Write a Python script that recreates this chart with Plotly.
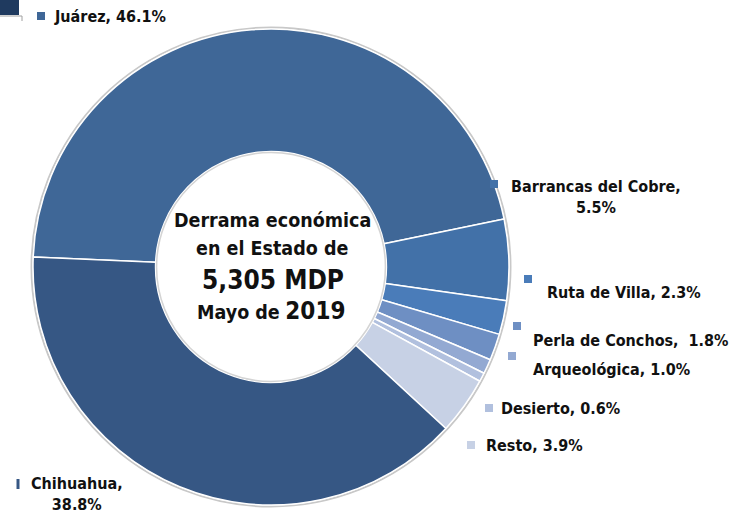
import plotly.graph_objects as go

# ---- data ----
regions = ["Juárez", "Barrancas del Cobre", "Ruta de Villa", "Perla de Conchos",
           "Arqueológica", "Desierto", "Resto", "Chihuahua"]
shares = [46.1, 5.5, 2.3, 1.8, 1.0, 0.6, 3.9, 38.8]
colors = ["#3F6797", "#4271A8", "#4A7CB9", "#6E8FC3", "#93A9D2", "#B1C0DE", "#C7D1E5", "#365784"]
center_lines = ["Derrama económica", "en el Estado de", "5,305 MDP", "Mayo de", "2019"]

W, H = 747, 520
FONT = "DejaVu Sans Condensed, Liberation Sans Narrow, Arial Narrow, sans-serif"

def px(x):
    return x / W

def py(y):
    return 1 - y / H

cx, cy, R = 271, 267, 238
HOLE = 0.485

fig = go.Figure(go.Pie(
    labels=regions,
    values=shares,
    sort=False,
    direction="clockwise",
    rotation=-87.6,
    hole=HOLE,
    marker=dict(colors=colors, line=dict(color="white", width=1.5)),
    textinfo="none",
    hoverinfo="label+percent",
    showlegend=False,
    domain=dict(x=[px(cx - R), px(cx + R)], y=[py(cy + R), py(cy - R)]),
))

# label layout: (marker x, marker y, text x, text y, anchor, two-line)
label_pos = {
    "Juárez": (41, 16, 52, 17, "left", False),
    "Barrancas del Cobre": (494, 184, 596, 197, "center", True),
    "Ruta de Villa": (528, 279, 545, 292, "left", False),
    "Perla de Conchos": (517, 326, 531, 340, "left", False),
    "Arqueológica": (512, 356, 531, 369, "left", False),
    "Desierto": (489, 408, 499, 408, "left", False),
    "Resto": (471, 445, 484, 445, "left", False),
    "Chihuahua": (18, 484, 77, 494, "center", True),
}

annotations = []
shapes = []
for name, val, col in zip(regions, shares, colors):
    mx, my, tx, ty, anc, two = label_pos[name]
    if two:
        txt = f"<b>{name},<br>{val:.1f}%</b>"
    else:
        sep = ",  " if name == "Perla de Conchos" else ", "
        txt = f"<b>{name}{sep}{val:.1f}%</b>"
    annotations.append(dict(
        x=px(tx), y=py(ty), xref="paper", yref="paper",
        text=txt, showarrow=False, xanchor=anc, yanchor="middle", align="center",
        font=dict(family=FONT, size=16, color="#111111"),
    ))
    hw = 1.5 if name == "Chihuahua" else 4
    hh = 5 if name == "Chihuahua" else 4
    shapes.append(dict(
        type="rect", xref="paper", yref="paper",
        x0=px(mx - hw), x1=px(mx + hw), y0=py(my + hh), y1=py(my - hh),
        fillcolor=col, line=dict(width=0),
    ))

# center text
annotations += [
    dict(x=px(272), y=py(220), xref="paper", yref="paper", showarrow=False,
         text=f"<b>{center_lines[0]}</b>", font=dict(family=FONT, size=19.5, color="#111111")),
    dict(x=px(272), y=py(248), xref="paper", yref="paper", showarrow=False,
         text=f"<b>{center_lines[1]}</b>", font=dict(family=FONT, size=19.5, color="#111111")),
    dict(x=px(273), y=py(280), xref="paper", yref="paper", showarrow=False,
         text=f"<b>{center_lines[2]}</b>", font=dict(family=FONT, size=26, color="#111111")),
    dict(x=px(271), y=py(311), xref="paper", yref="paper", showarrow=False,
         text=f"<b>{center_lines[3]}</b> <span style='font-size:24px'><b>{center_lines[4]}</b></span>",
         font=dict(family=FONT, size=19.5, color="#111111")),
]

# subtle shadows around the ring
r_in = R * HOLE
shapes += [
    dict(type="circle", xref="paper", yref="paper", layer="below",
         x0=px(cx - R - 1.5), x1=px(cx + R + 1.5), y0=py(cy + R + 1.5), y1=py(cy - R - 1.5),
         line=dict(color="#C8C8C8", width=2), fillcolor="rgba(0,0,0,0)"),
    dict(type="circle", xref="paper", yref="paper", layer="above",
         x0=px(cx - r_in + 1), x1=px(cx + r_in - 1), y0=py(cy + r_in - 1), y1=py(cy - r_in + 1),
         line=dict(color="#D4D4D4", width=1.5), fillcolor="rgba(0,0,0,0)"),
]

# decorative corner elements
shapes += [
    dict(type="rect", xref="paper", yref="paper", x0=px(0), x1=px(19), y0=py(15), y1=py(0),
         fillcolor="#1F3A5F", line=dict(width=0)),
    dict(type="path", xref="paper", yref="paper",
         path=f"M {px(0)},{py(16)} L {px(22)},{py(16)} L {px(22)},{py(21)}",
         line=dict(color="#A0A0A0", width=1)),
]

fig.update_layout(
    width=W, height=H,
    margin=dict(l=0, r=0, t=0, b=0),
    paper_bgcolor="white",
    plot_bgcolor="white",
    annotations=annotations,
    shapes=shapes,
)

fig.write_html("out.html", config={"displayModeBar": False},
               post_script="document.body.style.margin='0';")
